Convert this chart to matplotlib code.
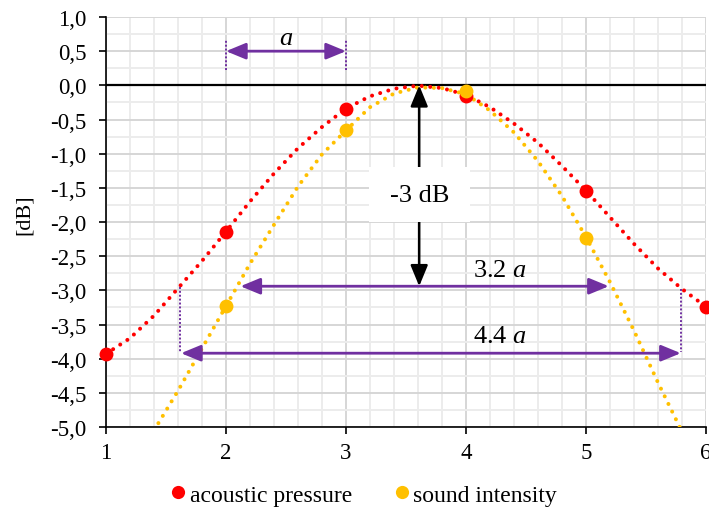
import matplotlib
matplotlib.use('Agg')
import matplotlib.pyplot as plt
from matplotlib.patches import Rectangle
from matplotlib.ticker import MultipleLocator, FixedLocator

plt.rcParams['font.family'] = ['Liberation Serif', 'DejaVu Serif']
plt.rcParams['mathtext.fontset'] = 'custom'
plt.rcParams['mathtext.rm'] = 'Liberation Serif'
plt.rcParams['mathtext.it'] = 'Liberation Serif:italic'

# ---- data ----
x_pressure = [1, 2, 3, 4, 5, 6]
pressure_db = [-3.93, -2.14, -0.34, -0.16, -1.54, -3.24]
x_intensity = [2, 3, 4, 5]
intensity_db = [-3.23, -0.66, -0.09, -2.23]

# dotted trend curves
curve_p_x = [1.0, 1.2, 1.4, 1.6, 1.8, 2.0, 2.2, 2.4, 2.6, 2.8, 3.0, 3.2, 3.4,
             3.6, 3.8, 4.0, 4.2, 4.4, 4.6, 4.8, 5.0, 5.2, 5.4, 5.6, 5.8, 6.0]
curve_p = [-3.93, -3.70, -3.37, -2.97, -2.57, -2.14, -1.70, -1.29, -0.92, -0.61,
           -0.34, -0.16, -0.05, -0.005, -0.04, -0.14, -0.32, -0.56, -0.84, -1.18,
           -1.54, -1.93, -2.32, -2.68, -2.98, -3.24]
curve_i_x = [1.4, 1.6, 1.8, 2.0, 2.2, 2.4, 2.6, 2.8, 3.0, 3.2, 3.4, 3.6, 3.8,
             4.0, 4.2, 4.4, 4.6, 4.8, 5.0, 5.2, 5.4, 5.6, 5.8]
curve_i = [-5.05, -4.47, -3.85, -3.23, -2.61, -2.04, -1.48, -1.01, -0.66, -0.32,
           -0.12, -0.03, -0.04, -0.13, -0.37, -0.69, -1.11, -1.62, -2.22, -2.88,
           -3.59, -4.35, -5.07]

x_ticks = [1, 2, 3, 4, 5, 6]
x_tick_labels = ['1', '2', '3', '4', '5', '6']
y_ticks = [1.0, 0.5, 0.0, -0.5, -1.0, -1.5, -2.0, -2.5, -3.0, -3.5, -4.0, -4.5, -5.0]
y_tick_labels = ['1,0', '0,5', '0,0', '-0,5', '-1,0', '-1,5', '-2,0', '-2,5',
                 '-3,0', '-3,5', '-4,0', '-4,5', '-5,0']

series_names = ['acoustic pressure', 'sound intensity']
red = '#ff0000'
orange = '#ffc000'
purple = '#7030a0'

# ---- figure ----
fig = plt.figure(figsize=(7.09, 5.10), dpi=100)
ax = fig.add_axes([106/709, 1-428/510, 600/709, 410/510])
ax.set_xlim(1, 6)
ax.set_ylim(-5, 1)

ax.xaxis.set_major_locator(FixedLocator(x_ticks))
ax.xaxis.set_minor_locator(MultipleLocator(0.2))
ax.yaxis.set_major_locator(FixedLocator(y_ticks))
ax.yaxis.set_minor_locator(MultipleLocator(0.25))
ax.set_xticklabels(x_tick_labels)
ax.set_yticklabels(y_tick_labels)

ax.grid(which='major', color='#d6d6d6', lw=1.4, zorder=0)
ax.grid(which='minor', color='#ececec', lw=1.4, zorder=0)
ax.set_axisbelow(True)

for s in ['top', 'right']:
    ax.spines[s].set_visible(False)
for s in ['left', 'bottom']:
    ax.spines[s].set_color('black')
    ax.spines[s].set_linewidth(1.2)

ax.tick_params(which='major', direction='out', length=5, width=1.2,
               labelsize=16.5, colors='black')
ax.tick_params(which='minor', length=0)
ax.tick_params(axis='y', pad=9)
ax.tick_params(axis='x', pad=6)

ax.axhline(0, color='black', lw=1.6, zorder=2)

# dotted curves
dot_style = dict(lw=2.9, linestyle=(0, (0.01, 2.1)), dash_capstyle='round', zorder=3)
ax.plot(curve_p_x, curve_p, color=red, **dot_style)
ax.plot(curve_i_x, curve_i, color=orange, **dot_style)

# measured points
ax.plot(x_pressure, pressure_db, 'o', color=red, ms=10, mec='none',
        zorder=5, clip_on=False, label=series_names[0])
ax.plot(x_intensity, intensity_db, 'o', color=orange, ms=10, mec='none',
        zorder=6, clip_on=False, label=series_names[1])

# ---- annotations ----
def darrow(x0, y0, x1, y1, color, lw=2.0, ms=15):
    ax.annotate('', xy=(x1, y1), xytext=(x0, y0),
                arrowprops=dict(arrowstyle='<|-|>,head_length=0.8,head_width=0.33',
                                color=color, lw=lw, shrinkA=0, shrinkB=0,
                                mutation_scale=ms), zorder=7)

# "a" arrow
darrow(2, 0.5, 3, 0.5, purple)
ax.plot([2, 2], [0.23, 0.67], color=purple, ls=(0, (1, 1)), lw=1.4, zorder=7)
ax.plot([3, 3], [0.23, 0.67], color=purple, ls=(0, (1, 1)), lw=1.4, zorder=7)
ax.text(2.5, 0.70, '$a$', fontsize=19, ha='center', va='center', zorder=8)

# 3.2 a arrow
darrow(2.12, -2.94, 5.19, -2.94, purple)
ax.text(4.28, -2.70, '3.2 $a$', fontsize=19, ha='center', va='center', zorder=8)

# 4.4 a arrow
darrow(1.625, -3.92, 5.79, -3.92, purple)
ax.plot([1.617, 1.617], [-2.95, -3.92], color=purple, ls=(0, (1, 1)), lw=1.4, zorder=7)
ax.plot([5.79, 5.79], [-2.98, -3.90], color=purple, ls=(0, (1, 1)), lw=1.4, zorder=7)
ax.text(4.28, -3.67, '4.4 $a$', fontsize=19, ha='center', va='center', zorder=8)

# -3 dB black arrow
darrow(3.61, 0.0, 3.61, -2.94, 'black', lw=1.8, ms=16)
ax.add_patch(Rectangle((3.19, -2.0), 0.84, 0.8, facecolor='white',
                       edgecolor='none', zorder=8))
ax.text(3.61, -1.6, '-3 dB', fontsize=19, ha='center', va='center', zorder=9)

# y label
fig.text(24/709, 1-215/510, '[dB]', rotation=90, fontsize=16,
         ha='center', va='center')

# legend
fig.legend(loc='center', bbox_to_anchor=(0.51, 1-496/510), ncol=2, frameon=False,
           fontsize=17, handletextpad=0.0, columnspacing=1.6, markerscale=0.95,
           handlelength=1.0)

fig.savefig('out.png', dpi=100)
